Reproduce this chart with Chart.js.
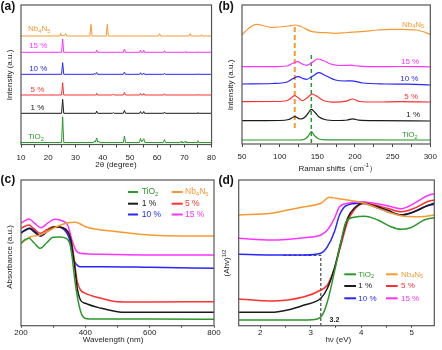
<!DOCTYPE html>
<html lang="en">
<head>
<meta charset="UTF-8">
<title>TiO2 / Nb4N5 characterisation</title>
<script src="https://cdn.jsdelivr.net/npm/chart.js"></script>
<style>
    body { margin: 0; background: #fff; }
    #wrap { position: relative; width: 442px; height: 350px; }
    canvas { position: absolute; }
</style>
</head>
<body>
<div id="wrap">
    <canvas id="pa" width="221" height="175" style="left:0;top:0"></canvas>
    <canvas id="pb" width="226" height="175" style="left:216px;top:0"></canvas>
    <canvas id="pc" width="221" height="175" style="left:0;top:175px"></canvas>
    <canvas id="pd" width="226" height="175" style="left:216px;top:175px"></canvas>
</div>
<script>
// ---- series names / colours ----
const seriesNames = ['TiO_2', '1 %', '5 %', '10 %', '15 %', 'Nb_4N_5'];
const seriesColors = ['#2a982a', '#1a1a1a', '#ff3030', '#2626ff', '#ff33ff', '#f59a32'];

// ---- (a) XRD, 2theta vs intensity (above each baseline) ----
const xrdTiO2 = [[10,0],[24.9,0],[25.3,25.8],[25.7,0],[36.7,0],[37.0,1.6],[37.3,0.3],[37.8,4.6],[38.2,0.3],[38.6,1.4],[38.9,0],
    [47.6,0],[48.0,6.5],[48.4,0],[53.5,0],[53.9,4],[54.3,0.5],[55.1,3.8],[55.5,0],[62.3,0],[62.7,3],[63.1,0],
    [68.5,0],[68.8,1.2],[69.1,0],[70.0,0],[70.3,1.2],[70.6,0],[74.7,0],[75.0,1.8],[75.3,0],[80,0]];
const xrd1 = [[10,0],[24.9,0],[25.3,14],[25.7,0],[37.5,0],[37.8,2.2],[38.1,0],[43.6,0],[43.9,0.8],[44.2,0],[47.6,0],[48.0,3],[48.4,0],
    [53.6,0],[53.9,1.8],[54.2,0],[54.8,0],[55.1,1.8],[55.4,0],[62.4,0],[62.7,1.3],[63.0,0],[74.7,0],[75.0,0.7],[75.3,0],[80,0]];
const xrd5 = [[10,0],[24.9,0],[25.3,12.3],[25.7,0],[37.5,0],[37.8,1.8],[38.1,0],[43.6,0],[43.9,0.8],[44.2,0],[47.6,0],[48.0,2.6],[48.4,0],
    [53.6,0],[53.9,1.6],[54.2,0],[54.8,0],[55.1,1.6],[55.4,0],[62.4,0],[62.7,1.2],[63.0,0],[74.7,0],[75.0,0.6],[75.3,0],[80,0]];
const xrd10 = [[10,0],[24.9,0],[25.3,11.6],[25.7,0],[36.8,0],[37.0,1.0],[37.3,0],[37.8,1.8],[38.1,0],[47.6,0],[48.0,2.2],[48.4,0],
    [53.6,0],[53.9,1.6],[54.2,0],[54.8,0],[55.1,1.3],[55.4,0],[62.4,0],[62.7,1.0],[63.0,0],[74.7,0],[75.0,0.5],[75.3,0],[80,0]];
const xrd15 = [[10,0],[24.9,0],[25.3,13.3],[25.7,0],[37.5,0],[37.8,2.3],[38.1,0],[47.6,0],[48.0,3.3],[48.4,0],
    [53.6,0],[53.9,2.2],[54.2,0],[54.8,0],[55.1,2.2],[55.4,0],[62.4,0],[62.7,1.6],[63.0,0],[70.0,0],[70.3,0.5],[70.6,0],[74.7,0],[75.0,0.7],[75.3,0],[80,0]];
const xrdNb4N5 = [[10,0],[24.3,0],[24.6,2.7],[24.9,0.5],[26.1,0.5],[26.4,2.5],[26.8,0],[35.3,0],[35.7,11.7],[36.1,0],[41.3,0],[41.7,11.7],[42.1,0],
    [60.5,0],[60.9,2.3],[61.3,0],[71.7,0],[72.1,2.3],[72.5,0],[76.0,0],[76.3,1.3],[76.6,0],[80,0]];
const xrdOffsets = [2, 31.2, 49.5, 70.2, 92.2, 108.5];

// ---- (b) Raman, shift (cm-1) vs stacked intensity ----
const ramanTiO2 = [[50,4],[125,4],[133,4.8],[138,8],[142,12.3],[146,8.5],[152,5],[160,4.2],[300,4]];
const raman1 = [[50,23.3],[100,23.5],[112,24.5],[120,27.3],[127,25],[133,26.5],[138,31],[142,34.7],[147,31.5],[152,27.3],[160,24.5],[175,23.5],[190,24],[197,25.2],[205,23.8],[230,23.3],[300,23]];
const raman5 = [[50,42.3],[95,42.5],[110,43.5],[116,46.5],[120,48.3],[125,46],[130,43.3],[137,46.5],[143,50],[150,47.5],[158,43.5],[174,41.8],[188,42.8],[197,45],[206,42.5],[230,42],[260,42.4],[300,42]];
const raman10 = [[50,60],[90,60.5],[110,62],[118,65.5],[125,67.3],[131,65.5],[136,64.7],[143,67.5],[152,71.3],[162,68],[174,64],[186,63],[195,63.2],[210,61],[240,60],[270,59.8],[300,59]];
const raman15 = [[50,77.3],[90,77.3],[110,78],[118,81],[124,82.3],[130,80],[136,78.7],[143,81.5],[150,85],[158,83.5],[168,80],[180,78.5],[195,78.8],[205,77.8],[230,77.3],[260,77.5],[300,77.2]];
const ramanNb4N5 = [[50,109],[55,113],[62,117.5],[70,119.7],[80,118],[88,116.7],[100,117],[112,118],[120,119],[128,117.5],[143,112.3],[160,111.3],[174,110.7],[190,111.5],[208,112.3],[230,114],[247,114.7],[265,114.5],[282,114],[292,112],[300,109.5]];
const ramanGuideNb = [[120,16],[120,119]];
const ramanGuideTi = [[142,1],[142,91]];

// ---- (c) UV-vis, wavelength (nm) vs absorbance ----
const uvTiO2 = [[200,82.4],[212,86],[225,87.4],[240,83],[260,77.4],[280,83],[300,88.5],[320,88.6],[342,87],[352,82],[358,71],[368,44],[378,24],[389,11],[404,7],[430,6.7],[600,6.6],[800,6.5]];
const uv1 = [[200,92.4],[212,95.5],[225,97.4],[240,94],[260,89.7],[280,94],[305,99],[330,98],[345,94],[355,85.7],[365,64],[375,37.4],[385,25.7],[400,22.4],[450,17.4],[500,14],[520,13.4],[800,13.4]];
const uv5 = [[200,97.4],[212,99.5],[225,100.7],[240,97],[260,92.4],[280,96],[300,99],[330,98],[345,94.7],[355,87.4],[365,67.4],[375,44],[385,35.7],[400,32.4],[450,27.4],[500,24],[600,23.7],[800,24]];
const uv10 = [[200,93.4],[215,95.5],[230,97.4],[245,94],[262,89.7],[285,95],[310,99],[335,95.7],[350,87.4],[362,67.4],[372,61.4],[383,59],[450,59],[600,58.4],[800,57.4]];
const uv15 = [[200,102.4],[212,105],[225,106.7],[242,102.5],[262,98],[285,103],[305,106.4],[330,104.7],[345,100.7],[360,84],[372,74.7],[385,72.4],[450,71.4],[600,70.7],[800,70.7]];
const uvNb4N5 = [[200,82.4],[215,85.7],[230,89],[260,90.7],[300,97.4],[340,102.4],[370,103.4],[390,100.7],[400,99],[500,94],[600,90.7],[700,89.7],[800,89.7]];

// ---- (d) Tauc plot, hv (eV) vs (Ahv)^1/2 ----
const taucTiO2 = [[1.57,5.7],[2.87,5.7],[3.13,6.7],[3.23,10.7],[3.33,24],[3.47,54],[3.6,84],[3.7,104],[3.86,108.4],[4.06,109.4],[4.33,105.7],[4.59,99],[4.79,96.4],[4.98,98],[5.25,105.7],[5.45,108]];
const tauc1 = [[1.57,13.4],[2.21,13.4],[2.54,15.7],[2.87,20.7],[3.2,27.4],[3.33,37.4],[3.47,57.4],[3.6,84],[3.73,107.4],[3.86,117.4],[4.06,122.4],[4.26,120],[4.52,115.7],[4.79,110.7],[5.05,114],[5.31,120],[5.45,122.4]];
const tauc5 = [[1.57,26.7],[2.21,24.7],[2.87,29],[3.2,35.7],[3.33,40.7],[3.47,57.4],[3.6,80.7],[3.73,104],[3.86,115.7],[4.06,122.4],[4.26,120.7],[4.52,117.4],[4.79,114],[5.05,117.4],[5.31,124],[5.45,125.7]];
const tauc10 = [[1.57,71.4],[2.21,70.7],[2.87,70.7],[3.2,72.4],[3.33,79],[3.47,94],[3.57,110.7],[3.7,120],[4.0,122.4],[4.26,119],[4.52,114],[4.79,110.7],[5.05,114],[5.31,120],[5.45,121.4]];
const tauc15 = [[1.57,87.4],[2.21,85.7],[2.87,88],[3.2,90.7],[3.33,95.7],[3.47,107.4],[3.57,119],[3.73,122.4],[4.0,124],[4.26,122.4],[4.52,120],[4.79,117],[5.05,122.4],[5.31,130],[5.45,132]];
const taucNb4N5 = [[1.57,110.7],[2.21,112.4],[2.54,115.7],[2.87,119],[3.2,122.4],[3.37,128.4],[3.5,127.4],[3.86,124.7],[4.06,122.4],[4.52,114],[4.79,110],[5.18,109],[5.45,110.7]];
const taucGuide = [[2.46,70.4],[3.2,70.4],[3.2,0]];
const bandGap = 3.2;

const FONT = '"Liberation Sans", Arial, sans-serif';

// text with _x subscripts and ^{..} superscripts
function richParts(str) {
    const parts = [];
    let buf = '', i = 0;
    while (i < str.length) {
        const c = str[i];
        if (c === '_' || c === '^') {
            if (buf) { parts.push({ t: buf, k: 'n' }); buf = ''; }
            let grp;
            if (str[i + 1] === '{') { const j = str.indexOf('}', i); grp = str.slice(i + 2, j); i = j + 1; }
            else { grp = str[i + 1]; i += 2; }
            parts.push({ t: grp, k: c === '_' ? 'sub' : 'sup' });
        } else { buf += c; i++; }
    }
    if (buf) parts.push({ t: buf, k: 'n' });
    return parts;
}

function drawRich(ctx, str, x, y, o) {
    const size = o.size || 8;
    const weight = o.bold ? 'bold ' : '';
    const fontFor = k => weight + (k === 'n' ? size : size * 0.7) + 'px ' + FONT;
    const parts = richParts(str);
    let w = 0;
    parts.forEach(p => { ctx.font = fontFor(p.k); p.w = ctx.measureText(p.t).width; w += p.w; });
    ctx.save();
    ctx.translate(x, y);
    if (o.rotate) ctx.rotate(o.rotate);
    ctx.fillStyle = o.color || '#222';
    ctx.textBaseline = 'middle';
    ctx.textAlign = 'left';
    let cx = o.align === 'center' ? -w / 2 : (o.align === 'right' ? -w : 0);
    parts.forEach(p => {
        ctx.font = fontFor(p.k);
        const dy = p.k === 'sub' ? size * 0.3 : (p.k === 'sup' ? -size * 0.35 : 0);
        ctx.fillText(p.t, cx, dy);
        cx += p.w;
    });
    ctx.restore();
}

// frame, labels, titles and in-plot legend
function extras(cfg) {
    return {
        id: 'extras',
        afterDatasetsDraw(chart) {
            const { ctx, chartArea: a, scales: { x, y } } = chart;
            ctx.save();
            ctx.strokeStyle = '#555';
            ctx.lineWidth = 1.2;
            ctx.strokeRect(a.left, a.top, a.right - a.left, a.bottom - a.top);
            ctx.restore();
            (cfg.notes || []).forEach(n => drawRich(ctx, n.text, x.getPixelForValue(n.x), y.getPixelForValue(n.y), n));
            (cfg.texts || []).forEach(n => drawRich(ctx, n.text, n.px, n.py, n));
            const lg = cfg.legend;
            if (lg) {
                lg.order.forEach((s, i) => {
                    const col = lg.cols[i % 2], ry = lg.rows[Math.floor(i / 2)];
                    ctx.save();
                    ctx.strokeStyle = seriesColors[s];
                    ctx.lineWidth = 2;
                    ctx.beginPath();
                    ctx.moveTo(col[0], ry);
                    ctx.lineTo(col[1], ry);
                    ctx.stroke();
                    ctx.restore();
                    drawRich(ctx, seriesNames[s], col[2], ry, { color: seriesColors[s], size: lg.size });
                });
            }
        }
    };
}

function makePanel(id, o) {
    return new Chart(document.getElementById(id), {
        type: 'line',
        data: { datasets: o.datasets },
        options: {
            responsive: false,
            animation: false,
            devicePixelRatio: 1,
            layout: { padding: { left: o.area[0], top: o.area[1], right: o.area[2], bottom: 0 } },
            elements: { point: { radius: 0 } },
            plugins: { legend: { display: false }, tooltip: { enabled: false } },
            scales: {
                x: {
                    type: 'linear', min: o.xMin, max: o.xMax,
                    afterFit: s => { s.height = o.axisH; },
                    border: { display: false },
                    grid: { drawOnChartArea: false, tickLength: o.tickLen, tickColor: '#444', tickWidth: 1 },
                    ticks: {
                        stepSize: o.step, autoSkip: false, maxRotation: 0, includeBounds: false,
                        padding: o.tickPad, color: '#222', font: { family: FONT, size: 8 },
                        callback: v => (Math.abs(v / o.major - Math.round(v / o.major)) < 1e-6 ? v : '')
                    }
                },
                y: { display: false, min: 0, max: o.yMax }
            }
        },
        plugins: [extras(o.extras)]
    });
}

function line(data, color, width, more) {
    return Object.assign({ data, borderColor: color, borderWidth: width, pointRadius: 0, fill: false, tension: 0 }, more || {});
}
const smooth = { cubicInterpolationMode: 'monotone' };

// (a)
const xrdSets = [xrdTiO2, xrd1, xrd5, xrd10, xrd15, xrdNb4N5];
makePanel('pa', {
    area: [21, 5, 5], axisH: 30.5, yMax: 139.5,
    xMin: 10, xMax: 80, step: 5, major: 10, tickLen: 3, tickPad: 5,
    datasets: xrdSets.map((d, i) => line(d.map(p => [p[0], p[1] + xrdOffsets[i]]), seriesColors[i], 1)),
    extras: {
        notes: [
            { text: 'Nb_4N_5', x: 12.6, y: 115.5, color: seriesColors[5] },
            { text: '15 %', x: 13, y: 98.8, color: seriesColors[4] },
            { text: '10 %', x: 13, y: 76.2, color: seriesColors[3] },
            { text: '5 %', x: 13.5, y: 55.2, color: seriesColors[2] },
            { text: '1 %', x: 13.5, y: 36.8, color: seriesColors[1] },
            { text: 'TiO_2', x: 12.6, y: 7.8, color: seriesColors[0] }
        ],
        texts: [
            { text: '(a)', px: 0.5, py: 7, size: 12, bold: true, color: '#111' },
            { text: 'Intensity (a.u.)', px: 9.3, py: 75, rotate: -Math.PI / 2, align: 'center' },
            { text: '2θ (degree)', px: 116, py: 165, align: 'center' }
        ]
    }
});

// (b)
makePanel('pb', {
    area: [26, 5, 7], axisH: 31, yMax: 139,
    xMin: 50, xMax: 300, step: 25, major: 50, tickLen: 3, tickPad: 5,
    datasets: [
        line(ramanTiO2, seriesColors[0], 1.2, smooth),
        line(raman1, seriesColors[1], 1.2, smooth),
        line(raman5, seriesColors[2], 1.2, smooth),
        line(raman10, seriesColors[3], 1.2, smooth),
        line(raman15, seriesColors[4], 1.2, smooth),
        line(ramanNb4N5, seriesColors[5], 1.2, smooth),
        line(ramanGuideNb, seriesColors[5], 2, { borderDash: [5, 3] }),
        line(ramanGuideTi, seriesColors[0], 1.5, { borderDash: [4, 3] })
    ],
    extras: {
        notes: [
            { text: 'Nb_4N_5', x: 262.4, y: 119.7, color: seriesColors[5] },
            { text: '15 %', x: 261, y: 82.3, color: seriesColors[4] },
            { text: '10 %', x: 260, y: 65, color: seriesColors[3] },
            { text: '5 %', x: 265.5, y: 47.3, color: seriesColors[2] },
            { text: '1 %', x: 268, y: 29.7, color: seriesColors[1] },
            { text: 'TiO_2', x: 262.4, y: 9, color: seriesColors[0] }
        ],
        texts: [
            { text: '(b)', px: 2.5, py: 7, size: 12, bold: true, color: '#111' },
            { text: 'Intensity (a.u.)', px: 14.3, py: 85, rotate: -Math.PI / 2, align: 'center' },
            { text: 'Raman shifts（cm^{-1}）', px: 121.7, py: 168.3, align: 'center' }
        ]
    }
});

// (c)
makePanel('pc', {
    area: [21, 5, 7], axisH: 24.3, yMax: 145.7,
    xMin: 200, xMax: 800, step: 100, major: 200, tickLen: 2, tickPad: 0,
    datasets: [
        line(uvTiO2, seriesColors[0], 1.5, smooth),
        line(uvNb4N5, seriesColors[5], 1.5, smooth),
        line(uv1, seriesColors[1], 1.5, smooth),
        line(uv5, seriesColors[2], 1.5, smooth),
        line(uv10, seriesColors[3], 1.5, smooth),
        line(uv15, seriesColors[4], 1.5, smooth)
    ],
    extras: {
        legend: { order: [0, 5, 1, 2, 3, 4], cols: [[128, 138, 141.7], [171.7, 182.7, 185]], rows: [17, 28.7, 39.5], size: 8.5 },
        texts: [
            { text: '(c)', px: 0.5, py: 5, size: 12, bold: true, color: '#111' },
            { text: 'Absorbance (a.u.)', px: 10, py: 82, rotate: -Math.PI / 2, align: 'center' },
            { text: 'Wavelength (nm)', px: 113, py: 165, align: 'center' }
        ]
    }
});

// (d)
makePanel('pd', {
    area: [22.7, 5, 7.7], axisH: 24.3, yMax: 145.7,
    xMin: 1.571, xMax: 5.45, step: 0.5, major: 1, tickLen: 2, tickPad: 0,
    datasets: [
        line(taucTiO2, seriesColors[0], 1.5, smooth),
        line(taucNb4N5, seriesColors[5], 1.5, smooth),
        line(tauc1, seriesColors[1], 1.5, smooth),
        line(tauc5, seriesColors[2], 1.5, smooth),
        line(tauc10, seriesColors[3], 1.5, smooth),
        line(tauc15, seriesColors[4], 1.5, smooth),
        line(taucGuide, '#222', 1, { borderDash: [3, 2] })
    ],
    extras: {
        legend: { order: [0, 5, 1, 2, 3, 4], cols: [[128.3, 140, 142.3], [170, 181.7, 185]], rows: [99.3, 111, 123.3], size: 8 },
        notes: [
            { text: String(bandGap), x: 3.47, y: 5.7, size: 7, bold: true, align: 'center', color: '#222' }
        ],
        texts: [
            { text: '(d)', px: 2.5, py: 6, size: 12, bold: true, color: '#111' },
            { text: '(Ahν)^{1/2}', px: 11, py: 88, rotate: -Math.PI / 2, align: 'center' },
            { text: 'hν (eV)', px: 122.3, py: 165, align: 'center' }
        ]
    }
});
</script>
</body>
</html>
